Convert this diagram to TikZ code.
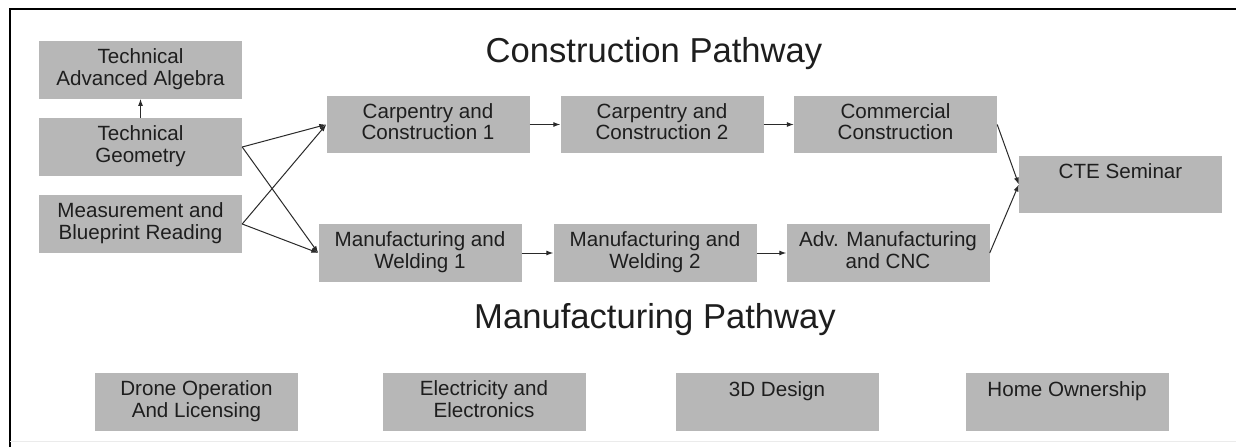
\documentclass[tikz,border=0pt]{standalone}
\usepackage{fontspec}
\setmainfont{Liberation Sans}
\usetikzlibrary{arrows.meta}
\definecolor{boxgray}{HTML}{B7B7B7}
\definecolor{txt}{HTML}{1E1E1E}
\definecolor{arr}{HTML}{2A2A2A}
\newcommand{\myTop}{\rule[-6pt]{0pt}{18pt}}
\newcommand{\myBot}{\rule[-6pt]{0pt}{14pt}}
\begin{document}
\begin{tikzpicture}[x=1pt,y=-1pt,
  course/.style={fill=boxgray, draw=none, minimum width=203pt, minimum height=57.5pt,
    inner sep=0pt, align=center, text=txt, font=\fontsize{20.6}{20}\selectfont},
  pathtitle/.style={anchor=base, text=txt, inner sep=0pt, font=\fontsize{34.6}{40}\selectfont},
  link/.style={draw=arr, line width=1pt, -{Latex[length=7pt,width=5pt]}}]
\useasboundingbox (0,0) rectangle (1236,447);
\fill[white] (0,0) rectangle (1236,447);
% frame
\draw[line width=1.3pt, black] (10,447) -- (10,9) -- (1236,9);
\draw[line width=0.8pt, black!8] (10,441) -- (1236,441);

% titles
\node[pathtitle] (tc) at (654,62) {Construction Pathway};
\node[pathtitle] (tm) at (655,328) {Manufacturing Pathway};

% left column
\node[course] (taa) at (140.5,70)  {\myTop Technical\\\myBot Advanced Algebra};
\node[course] (tg)  at (140.5,147) {\myTop Technical\\\myBot Geometry};
\node[course] (mbr) at (140.5,224) {\myTop Measurement and\\\myBot Blueprint Reading};

% construction row
\node[course] (cc1) at (428,124.5) {\myTop Carpentry and\\\myBot Construction 1};
\node[course] (cc2) at (662,124.5) {\myTop Carpentry and\\\myBot Construction 2};
\node[course] (com) at (895.5,124.5) {\myTop Commercial\\\myBot Construction};

% manufacturing row
\node[course] (mw1) at (420,253) {\myTop Manufacturing and\\\myBot Welding 1};
\node[course] (mw2) at (655,253) {\myTop Manufacturing and\\\myBot Welding 2};
\node[course] (adv) at (888,253) {\myTop Adv. Manufacturing\\\myBot and CNC};

% seminar
\node[course] (cte) at (1120.5,184.5) {\myTop CTE Seminar\\\myBot};

% bottom row
\node[course] (dro) at (196.5,402) {\myTop Drone Operation\\\myBot And Licensing};
\node[course] (ele) at (484,402)   {\myTop Electricity and\\\myBot Electronics};
\node[course] (d3)  at (777,402)   {\myTop 3D Design\\\myBot};
\node[course] (hom) at (1067,402)  {\myTop Home Ownership\\\myBot};

% connectors
\draw[link] (tg.north) -- (taa.south);
\draw[link] (tg.east) -- (cc1.west);
\draw[link] (tg.east) -- (mw1.west);
\draw[link] (mbr.east) -- (cc1.west);
\draw[link] (mbr.east) -- (mw1.west);
\draw[link] (cc1) -- (cc2);
\draw[link] (cc2) -- (com);
\draw[link] (mw1) -- (mw2);
\draw[link] (mw2) -- (adv);
\draw[link] (com.east) -- (cte.west);
\draw[link] (adv.east) -- (cte.west);
\end{tikzpicture}
\end{document}
